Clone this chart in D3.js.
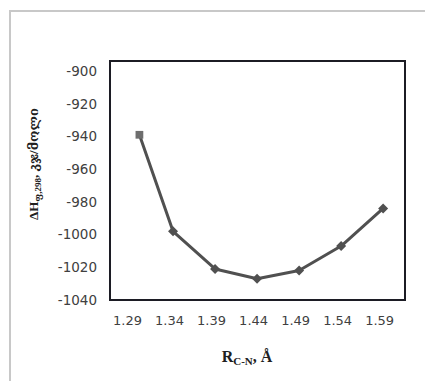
<!DOCTYPE html>
<html>
<head>
<meta charset="utf-8">
<script src="https://cdn.jsdelivr.net/npm/d3@7"></script>
<style>
  html, body { margin: 0; padding: 0; background: #fff; }
  svg { display: block; }
  .tick text { font-family: "DejaVu Sans", sans-serif; fill: #404040; }
</style>
</head>
<body>
<svg id="chart" width="425" height="381"></svg>
<script>
// bond length R(C-N), Å and enthalpy, kJ/mol
const rValues = [1.30, 1.34, 1.39, 1.44, 1.49, 1.54, 1.59];
const hValues = [-939, -998, -1021, -1027, -1022, -1007, -984];
const xTicks = [1.29, 1.34, 1.39, 1.44, 1.49, 1.54, 1.59];
const yTicks = [-900, -920, -940, -960, -980, -1000, -1020, -1040];

const width = 425;
const height = 381;
const plot = { left: 110, top: 61, right: 405, bottom: 300 };

const svg = d3.select('#chart');

// outer chart frame (cut off at the right and bottom)
svg.append('rect')
  .attr('x', 10).attr('y', 11)
  .attr('width', width).attr('height', height)
  .attr('fill', '#fff')
  .attr('stroke', '#c8c8c8')
  .attr('stroke-width', 2);

const x = d3.scaleLinear().domain([1.265, 1.616]).range([plot.left, plot.right]);
const y = d3.scaleLinear().domain([-1040, -900]).range([plot.bottom, plot.top + 10]);

// y axis labels
const yAxis = svg.append('g')
  .attr('transform', `translate(${plot.left},0)`)
  .call(d3.axisLeft(y).tickValues(yTicks).tickSize(0).tickPadding(13)
    .tickFormat(d => String(d)));
yAxis.select('.domain').remove();
yAxis.selectAll('.tick text').style('font-size', '13.5px');

// x axis labels
const xAxis = svg.append('g')
  .attr('transform', `translate(0,${plot.bottom})`)
  .call(d3.axisBottom(x).tickValues(xTicks).tickSize(0).tickPadding(16)
    .tickFormat(d => d.toFixed(2)));
xAxis.select('.domain').remove();
xAxis.selectAll('.tick text').style('font-size', '13px').attr('dx', '-4');

// plot area border
svg.append('rect')
  .attr('x', plot.left).attr('y', plot.top)
  .attr('width', plot.right - plot.left)
  .attr('height', plot.bottom - plot.top)
  .attr('fill', 'none')
  .attr('stroke', '#1c1c24')
  .attr('stroke-width', 2);

const data = rValues.map((r, i) => ({ r, h: hValues[i] }));

const line = d3.line()
  .x(d => x(d.r))
  .y(d => y(d.h));

svg.append('path')
  .datum(data)
  .attr('d', line)
  .attr('fill', 'none')
  .attr('stroke', '#505050')
  .attr('stroke-width', 3)
  .attr('stroke-linejoin', 'round');

// first point is a square, the rest are diamonds (squares turned 45°)
svg.selectAll('.marker')
  .data(data)
  .enter()
  .append('path')
  .attr('class', 'marker')
  .attr('transform', (d, i) => `translate(${x(d.r)},${y(d.h)})` + (i === 0 ? '' : ' rotate(45)'))
  .attr('d', (d, i) => d3.symbol().type(d3.symbolSquare).size(i === 0 ? 60 : 50)())
  .attr('fill', (d, i) => i === 0 ? '#6e6e6e' : '#505050');

// y axis title: ΔH f,298, kJ/mol (Georgian)
const yTitle = svg.append('text')
  .attr('transform', 'translate(38,164) rotate(-90)')
  .attr('text-anchor', 'middle')
  .style('font-family', '"Liberation Serif", "DejaVu Serif", serif')
  .style('font-weight', 'bold')
  .style('font-size', '13px')
  .style('fill', '#202020');
yTitle.append('tspan').text('ΔH');
yTitle.append('tspan').attr('dy', 3).style('font-size', '9px').text('ფ,298');
yTitle.append('tspan').attr('dy', -3).text(', კჯ/მოლი');

// x axis title: R C-N, Å
const xTitle = svg.append('text')
  .attr('x', 247).attr('y', 362)
  .attr('text-anchor', 'middle')
  .style('font-family', '"Liberation Serif", "DejaVu Serif", serif')
  .style('font-weight', 'bold')
  .style('font-size', '16px')
  .style('fill', '#202020');
xTitle.append('tspan').text('R');
xTitle.append('tspan').attr('dy', 3).style('font-size', '11px').text('C-N');
xTitle.append('tspan').attr('dy', -3).text(', Å');
</script>
</body>
</html>
